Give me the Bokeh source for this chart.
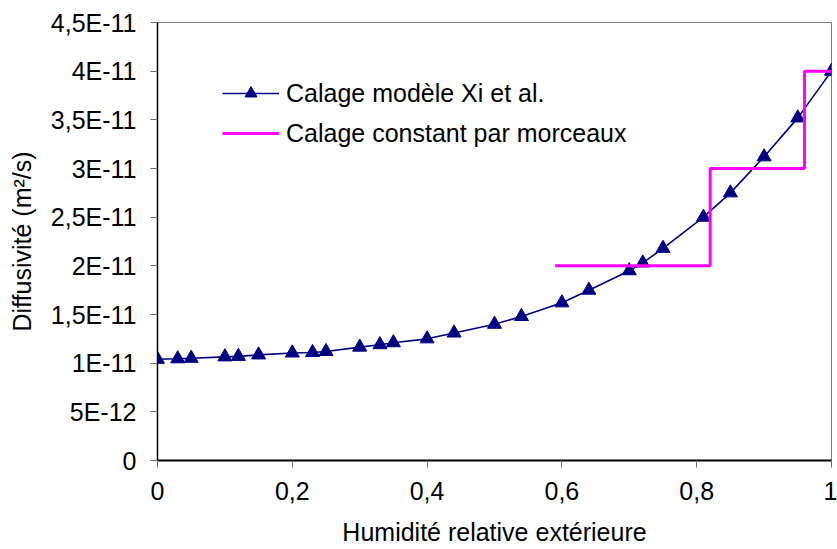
from bokeh.plotting import figure
from bokeh.models import Legend, LegendItem, FixedTicker, CustomJSTickFormatter
from bokeh.embed import file_html
from bokeh.resources import INLINE

# ---- data ----
x_model = [0.00, 0.03, 0.05, 0.10, 0.12, 0.15, 0.20, 0.23, 0.25, 0.30, 0.33, 0.35, 0.40,
           0.44, 0.50, 0.54, 0.60, 0.64, 0.70, 0.72, 0.75, 0.81, 0.85, 0.90, 0.95, 1.00]
y_model = [1.04e-11, 1.045e-11, 1.05e-11, 1.065e-11, 1.07e-11, 1.085e-11, 1.105e-11,
           1.11e-11, 1.12e-11, 1.165e-11, 1.19e-11, 1.21e-11, 1.25e-11, 1.31e-11,
           1.40e-11, 1.48e-11, 1.62e-11, 1.75e-11, 1.95e-11, 2.03e-11, 2.18e-11,
           2.50e-11, 2.75e-11, 3.12e-11, 3.52e-11, 4.00e-11]
x_step = [0.59, 0.82, 0.82, 0.96, 0.96, 1.00]
y_step = [2e-11, 2e-11, 3e-11, 3e-11, 4e-11, 4e-11]
x_ticks = [0, 0.2, 0.4, 0.6, 0.8, 1.0]
y_ticks = [0, 5e-12, 1e-11, 1.5e-11, 2e-11, 2.5e-11, 3e-11, 3.5e-11, 4e-11, 4.5e-11]
label_model = "Calage modèle Xi et al."
label_step = "Calage constant par morceaux"
x_title = "Humidité relative extérieure"
y_title = "Diffusivité (m²/s)"

FONT = "Liberation Sans"
FS = "25px"

p = figure(width=837, height=549, x_range=(0, 1), y_range=(0, 4.5e-11),
           output_backend="svg", toolbar_location=None,
           min_border_left=157, min_border_right=6, min_border_top=22, min_border_bottom=89)
p.background_fill_color = "white"
p.border_fill_color = "white"
p.outline_line_color = "#808080"
p.outline_line_width = 1
p.xgrid.visible = False
p.ygrid.visible = False

l1 = p.line(x_model, y_model, line_color="#000080", line_width=1.6)
s1 = p.scatter(x_model, y_model, marker="triangle", size=14,
               fill_color="#000080", line_color="#000080")
l2 = p.line(x_step, y_step, line_color="#FF00FF", line_width=3)

for ax in (p.xaxis[0], p.yaxis[0]):
    ax.axis_line_color = "black"
    ax.major_tick_line_color = "#707070"
    ax.major_tick_line_width = 1
    ax.major_tick_in = 0
    ax.major_tick_out = 7
    ax.minor_tick_line_color = None
    ax.major_label_text_font = FONT
    ax.major_label_text_font_size = FS
    ax.major_label_text_color = "black"
    ax.axis_label_text_font = FONT
    ax.axis_label_text_font_size = FS
    ax.axis_label_text_font_style = "normal"
    ax.axis_label_text_color = "black"

p.xaxis.axis_line_width = 2
p.yaxis.axis_line_width = 1.5
p.xaxis.ticker = FixedTicker(ticks=x_ticks)
p.yaxis.ticker = FixedTicker(ticks=y_ticks)
p.xaxis.formatter = CustomJSTickFormatter(
    code="return (Math.round(tick*10)/10).toString().replace('.', ',');")
p.yaxis.formatter = CustomJSTickFormatter(code="""
if (Math.abs(tick) < 1e-20) return "0";
let e = Math.floor(Math.log10(Math.abs(tick)) + 1e-9);
let m = Math.round(tick / Math.pow(10, e) * 10) / 10;
if (m >= 10) { m = m / 10; e += 1; }
return m.toString().replace('.', ',') + 'E' + e;
""")
p.xaxis.major_label_standoff = 14
p.yaxis.major_label_standoff = 14
p.xaxis.axis_label = x_title
p.yaxis.axis_label = y_title
p.xaxis.axis_label_standoff = 15
p.yaxis.axis_label_standoff = 12

legend = Legend(items=[LegendItem(label=label_model, renderers=[l1, s1]),
                       LegendItem(label=label_step, renderers=[l2])],
                location=(65, 312), glyph_width=57, glyph_height=30, label_height=30,
                spacing=10, label_standoff=7, padding=0, margin=0,
                border_line_color=None, background_fill_alpha=0,
                label_text_font=FONT, label_text_font_size=FS, label_text_color="black")
p.add_layout(legend)

open("out.html", "w", encoding="utf-8").write(file_html(p, INLINE))
